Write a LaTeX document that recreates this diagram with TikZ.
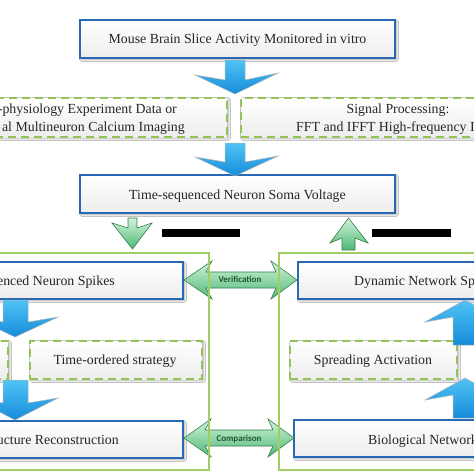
\documentclass[tikz,border=0pt]{standalone}
\usepackage{fontspec}
\setmainfont{Liberation Serif}
\newfontfamily\calibrifont{Carlito}
\usetikzlibrary{shadows.blur}
\definecolor{boxblue}{RGB}{40,104,180}
\definecolor{dashgreen}{RGB}{146,196,88}
\definecolor{panelgreen}{RGB}{160,205,100}
\definecolor{arrowlight}{RGB}{80,195,245}
\definecolor{arrowdark}{RGB}{22,140,218}
\definecolor{glight}{RGB}{210,244,218}
\definecolor{gdark}{RGB}{78,184,118}
\definecolor{gedge}{RGB}{55,125,75}
\definecolor{labelgreen}{RGB}{35,85,45}
\tikzset{
  bluebox/.style={draw=boxblue, line width=2pt, top color=white, bottom color=gray!14,
    blur shadow={shadow xshift=1.5pt, shadow yshift=-1.5pt, shadow blur steps=4, shadow opacity=40}},
  dashbox/.style={draw=dashgreen, line width=2.4pt, dash pattern=on 8pt off 5pt,
    top color=white, bottom color=gray!14,
    blur shadow={shadow xshift=1.5pt, shadow yshift=-1.5pt, shadow blur steps=4, shadow opacity=35}},
  panel/.style={draw=panelgreen, line width=1.5pt},
  bluearrow/.style={draw=black!30, line width=0.5pt, top color=arrowlight, bottom color=arrowdark},
  greenarrow/.style={draw=gedge, line width=0.6pt, top color=glight, bottom color=gdark},
  txt/.style={font=\fontsize{13.85}{16}\selectfont, text=black!85, inner sep=0pt},
  arrowlabel/.style={font=\calibrifont\bfseries\fontsize{9}{10}\selectfont, text=labelgreen, inner sep=0pt},
  bar/.style={fill=black, draw=none}
}
\begin{document}
\begin{tikzpicture}[x=1pt, y=1pt]
\path[use as bounding box, clip] (0,0) rectangle (474,-474);
\fill[white] (0,0) rectangle (474,-474);

% boxes
\node[bluebox, minimum width=315pt, minimum height=38pt, inner sep=0pt] (top) at (237.5,-39) {};
\node[txt, anchor=base] (toptext) at (237.5,-43.5) {Mouse Brain Slice Activity Monitored in vitro};

\node[dashbox, minimum width=232pt, minimum height=39pt, inner sep=0pt] (ldash) at (111,-117.5) {};
\node[txt, anchor=base east] (ld1) at (177,-113.5) {-physiology Experiment Data or};
\node[txt, anchor=base east] (ld2) at (185,-131) {al Multineuron Calcium Imaging};

\node[dashbox, minimum width=240pt, minimum height=39pt, inner sep=0pt] (rdash) at (361,-117.5) {};
\node[txt, anchor=base] (rd1) at (398,-113.5) {Signal Processing:};
\node[txt, anchor=base west] (rd2) at (296,-131) {FFT and IFFT High-frequency I};

\node[bluebox, minimum width=315pt, minimum height=38pt, inner sep=0pt] (soma) at (237.5,-194) {};
\node[txt, anchor=base] (somatext) at (237.5,-199.5) {Time-sequenced Neuron Soma Voltage};

% bars
\path[bar] (162,-229) rectangle (240,-237);
\path[bar] (372,-229) rectangle (451,-237);

% left panel contents
\node[bluebox, minimum width=188pt, minimum height=37pt, inner sep=0pt] (spikes) at (89,-280.5) {};
\node[txt, anchor=base east] (spikestext) at (115,-285) {enced Neuron Spikes};

\node[dashbox, minimum width=28pt, minimum height=38pt, inner sep=0pt] (smalldash) at (-6,-360) {};
\node[dashbox, minimum width=172pt, minimum height=38pt, inner sep=0pt] (ordered) at (116,-360) {};
\node[txt, anchor=base] (orderedtext) at (115,-364) {Time-ordered strategy};

\node[bluebox, minimum width=188pt, minimum height=37pt, inner sep=0pt] (struct) at (89,-439.5) {};
\node[txt, anchor=base east] (structtext) at (119,-444) {ucture Reconstruction};

% right panel contents
\node[bluebox, minimum width=182pt, minimum height=37pt, inner sep=0pt] (dyn) at (389,-280.5) {};
\node[txt, anchor=base west] (dyntext) at (354,-285) {Dynamic Network Sp};

\node[dashbox, minimum width=167pt, minimum height=38pt, inner sep=0pt] (spread) at (373.5,-360) {};
\node[txt, anchor=base] (spreadtext) at (373,-364) {Spreading Activation};

\node[bluebox, minimum width=186pt, minimum height=37pt, inner sep=0pt] (bio) at (387,-438.5) {};
\node[txt, anchor=base west] (biotext) at (368,-444) {Biological Network};

% blue block arrows
\path[bluearrow] (225,-60) -- (245,-60) -- (245,-80) -- (278,-73) -- (235,-94) -- (195,-75) -- (225,-80) -- cycle;
\path[bluearrow] (225,-143) -- (245,-143) -- (245,-162) -- (278,-156) -- (235,-176) -- (195,-157) -- (225,-162) -- cycle;
\path[bluearrow] (3,-300) -- (28,-300) -- (28,-322) -- (58,-317) -- (15,-337) -- (-27,-317) -- (3,-322) -- cycle;
\path[bluearrow] (3,-380) -- (28,-380) -- (28,-403) -- (58,-398) -- (15,-420) -- (-27,-398) -- (3,-403) -- cycle;
\path[bluearrow] (453,-345) -- (453,-317) -- (425,-322) -- (465,-300) -- (505,-322) -- (477,-317) -- (477,-345) -- cycle;
\path[bluearrow] (453,-418) -- (453,-395) -- (425,-400) -- (465,-378) -- (505,-400) -- (477,-395) -- (477,-418) -- cycle;

% green block arrows
\path[greenarrow] (128,-218) -- (137,-218) -- (137,-228) -- (152,-223) -- (132.5,-249) -- (112,-223) -- (128,-228) -- cycle;
\path[greenarrow] (342,-250) -- (355,-250) -- (355,-238) -- (368,-243) -- (348.5,-218) -- (330,-243) -- (342,-238) -- cycle;

% double arrows
\path[greenarrow] (184,-280) -- (212,-261) -- (206,-272) -- (276,-272) -- (271,-261) -- (297,-280) -- (271,-299) -- (276,-288) -- (206,-288) -- (212,-299) -- cycle;
\node[arrowlabel, anchor=base] (verif) at (240,-282.5) {Verification};
\path[greenarrow] (184,-438) -- (211,-419) -- (205,-430) -- (273,-430) -- (268,-419) -- (294,-438) -- (268,-457) -- (273,-446) -- (205,-446) -- (211,-457) -- cycle;
\node[arrowlabel, anchor=base] (compar) at (239,-441) {Comparison};

% panels
\draw[panel] (-5,-253) rectangle (209,-470);
\draw[panel] (279,-253) rectangle (480,-470);
\end{tikzpicture}
\end{document}
